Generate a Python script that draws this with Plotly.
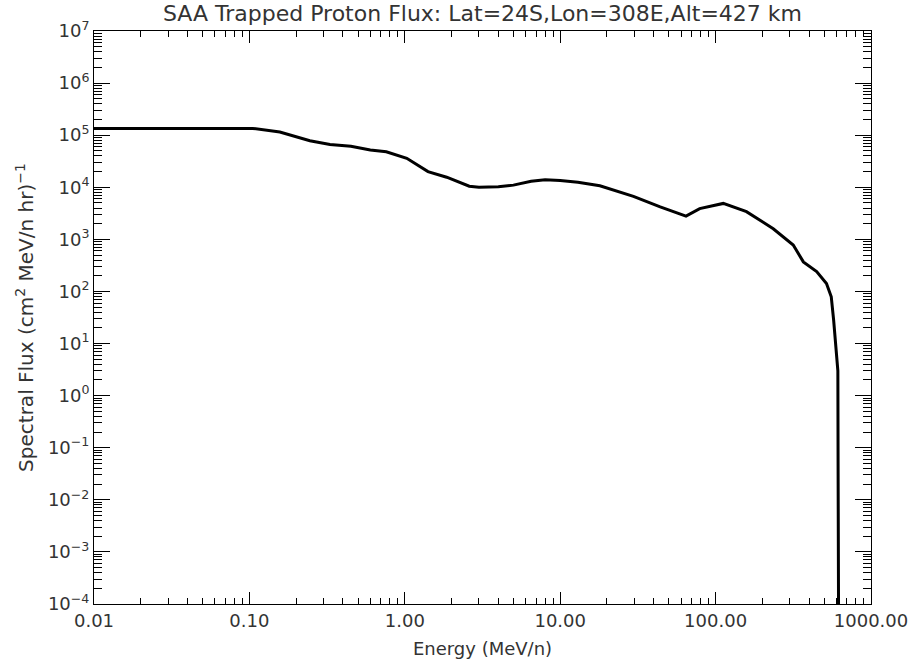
import plotly.graph_objects as go

energy = [0.01, 0.105, 0.157, 0.2, 0.245, 0.33, 0.45, 0.6, 0.76, 1.03, 1.41, 1.86,
          2.6, 3.0, 4.0, 5.0, 6.5, 8.0, 10, 13, 18, 29.6, 44, 64.5, 79, 112, 158,
          235, 316, 367, 447, 517, 555, 575, 600, 612, 614, 618]
flux = [1.35e5, 1.35e5, 1.15e5, 9.2e4, 7.8e4, 6.6e4, 6.1e4, 5.2e4, 4.8e4, 3.6e4, 2.0e4, 1.56e4,
        1.05e4, 1.0e4, 1.02e4, 1.1e4, 1.3e4, 1.4e4, 1.35e4, 1.25e4, 1.07e4, 6.7e3, 4.2e3, 2.8e3,
        3.9e3, 4.9e3, 3.4e3, 1.6e3, 780, 370, 240, 142, 79, 28, 7.5, 3, 0.05, 1e-4]

x_tickvals = [0.01, 0.1, 1, 10, 100, 1000]
x_ticktext = ["0.01", "0.10", "1.00", "10.00", "100.00", "1000.00"]
y_exponents = [-4, -3, -2, -1, 0, 1, 2, 3, 4, 5, 6, 7]

title_text = "SAA Trapped Proton Flux: Lat=24S,Lon=308E,Alt=427 km"
x_title = "Energy (MeV/n)"
y_title = "Spectral Flux (cm<sup>2</sup> MeV/n hr)<sup>−1</sup>"

y_tickvals = [10.0 ** e for e in y_exponents]
y_ticktext = ["10<sup>%s</sup>" % (str(e).replace("-", "−")) for e in y_exponents]

FONT = "DejaVu Sans"
TXT = "#333"

fig = go.Figure()
fig.add_trace(go.Scatter(x=energy, y=flux, mode="lines",
                         line=dict(color="black", width=3), showlegend=False))

fig.update_layout(
    width=913, height=668,
    margin=dict(l=94, r=42, t=31, b=64, autoexpand=False),
    paper_bgcolor="white", plot_bgcolor="white",
    font=dict(family=FONT, size=18, color=TXT),
    title=dict(text=title_text, x=0.5, xref="paper", xanchor="center",
               y=1 - 13 / 668, yref="container", yanchor="middle",
               font=dict(family=FONT, size=22, color=TXT), automargin=False),
)

fig.update_xaxes(
    type="log", range=[-2, 3], automargin=False,
    tickvals=x_tickvals, ticktext=x_ticktext,
    ticks="inside", ticklen=12, tickwidth=1, tickcolor="black",
    showline=True, linecolor="black", linewidth=1, mirror="allticks",
    showgrid=False, zeroline=False,
    minor=dict(ticks="inside", ticklen=6, tickwidth=1, tickcolor="black",
               dtick="D1", showgrid=False),
    title=dict(text=x_title, standoff=12, font=dict(family=FONT, size=18, color=TXT)),
    tickfont=dict(family=FONT, size=18, color=TXT),
)

fig.update_yaxes(
    type="log", range=[-4, 7], automargin=False,
    tickvals=y_tickvals, ticktext=y_ticktext,
    ticks="inside", ticklen=16, tickwidth=1, tickcolor="black",
    showline=True, linecolor="black", linewidth=1, mirror="allticks",
    showgrid=False, zeroline=False,
    minor=dict(ticks="inside", ticklen=8, tickwidth=1, tickcolor="black",
               dtick="D1", showgrid=False),
    title=dict(text=y_title, standoff=8, font=dict(family=FONT, size=20, color=TXT)),
    tickfont=dict(family=FONT, size=18, color=TXT),
)

fig.write_html("out.html")
